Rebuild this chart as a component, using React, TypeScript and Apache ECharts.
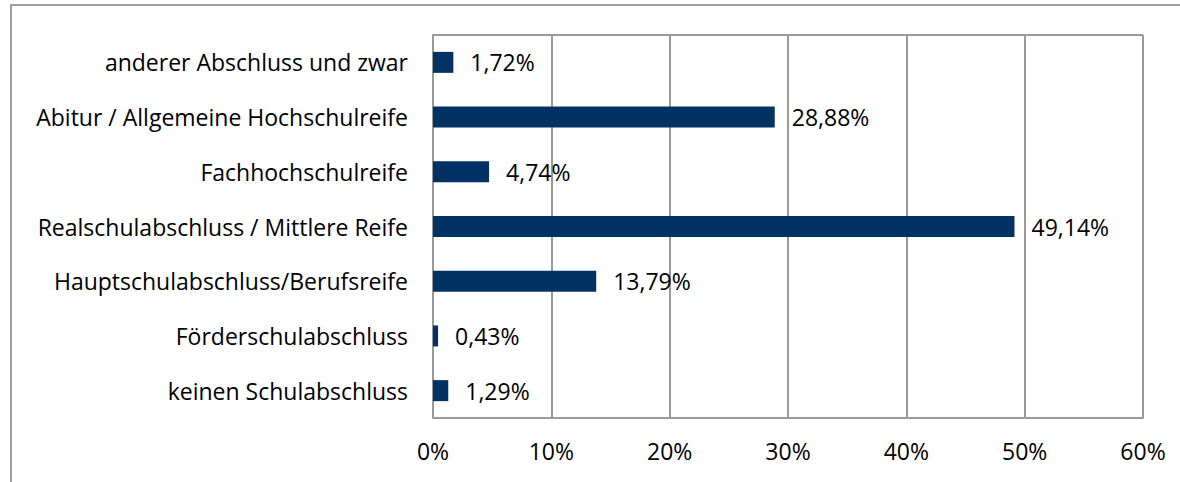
import React, { useEffect, useRef } from "react";
import * as echarts from "echarts";

const categories = [
  "anderer Abschluss und zwar",
  "Abitur / Allgemeine Hochschulreife",
  "Fachhochschulreife",
  "Realschulabschluss / Mittlere Reife",
  "Hauptschulabschluss/Berufsreife",
  "Förderschulabschluss",
  "keinen Schulabschluss",
];
const values = [1.72, 28.88, 4.74, 49.14, 13.79, 0.43, 1.29];
const xTicks = [0, 10, 20, 30, 40, 50, 60];

const FONT = "Open Sans";
const FS = 23;

export default function App() {
  const ref = useRef<HTMLDivElement>(null);
  useEffect(() => {
    document.body.style.margin = "0";
    const chart = echarts.init(ref.current!, null, { renderer: "svg" });
    chart.setOption({
      animation: false,
      backgroundColor: "#ffffff",
      textStyle: { fontFamily: FONT },
      graphic: [
        {
          type: "rect",
          shape: { x: 11, y: 5, width: 1200, height: 500 },
          style: { fill: "none", stroke: "#a0a0a0", lineWidth: 2 },
          silent: true,
        },
        {
          type: "line",
          shape: { x1: 433, y1: 35, x2: 1143, y2: 35 },
          style: { stroke: "#9a9a9a", lineWidth: 2 },
          silent: true,
        },
      ],
      grid: { left: 433, right: 37, top: 35, bottom: 64, containLabel: false },
      xAxis: {
        type: "value",
        min: xTicks[0],
        max: xTicks[xTicks.length - 1],
        interval: 10,
        axisLine: { show: true, lineStyle: { color: "#9a9a9a", width: 2 } },
        axisTick: { show: false },
        splitLine: { show: true, lineStyle: { color: "#9a9a9a", width: 2 } },
        axisLabel: {
          formatter: (v: number) => `${v}%`,
          color: "#000",
          fontSize: FS,
          fontFamily: FONT,
          margin: 21,
        },
      },
      yAxis: {
        type: "category",
        data: categories,
        inverse: true,
        axisLine: { show: true, lineStyle: { color: "#9a9a9a", width: 2 } },
        axisTick: { show: false },
        splitLine: { show: false },
        axisLabel: { color: "#000", fontSize: FS, fontFamily: FONT, margin: 25 },
      },
      series: [
        {
          type: "bar",
          data: values,
          barWidth: 21,
          itemStyle: { color: "#003264" },
          label: {
            show: true,
            position: "right",
            distance: 17,
            color: "#000",
            fontSize: FS,
            fontFamily: FONT,
            formatter: (p: any) => `${p.value.toFixed(2).replace(".", ",")}%`,
          },
        },
      ],
    });
    return () => chart.dispose();
  }, []);
  return <div ref={ref} style={{ width: 1180, height: 482 }} />;
}
